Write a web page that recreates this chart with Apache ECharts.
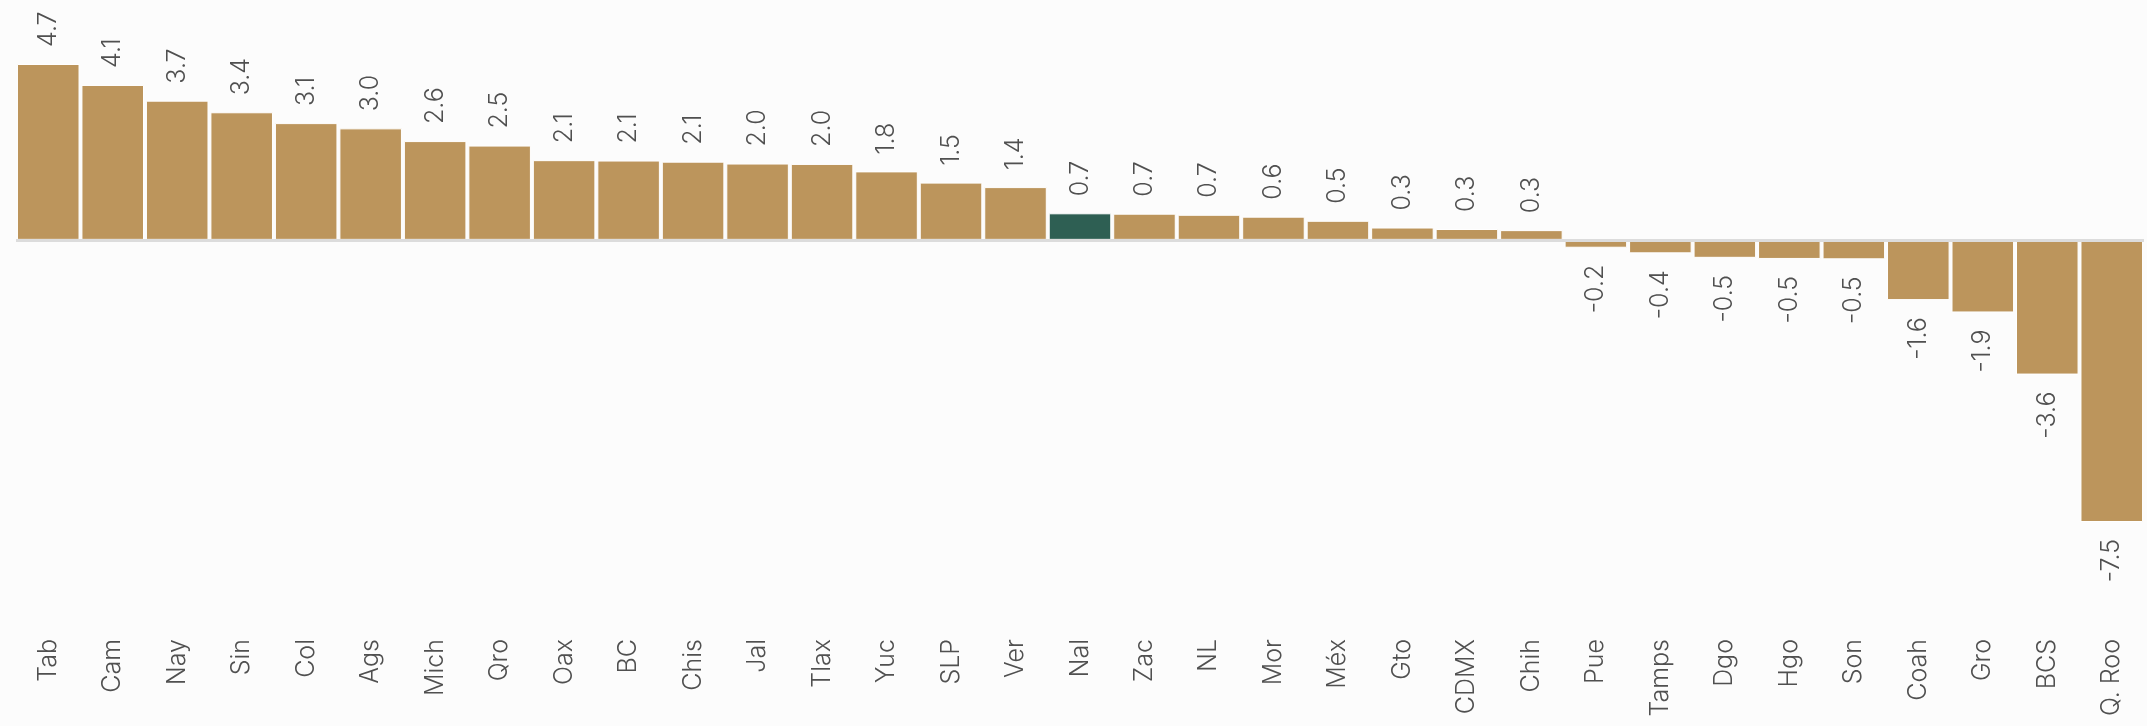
<!DOCTYPE html>
<html>
<head>
<meta charset="utf-8">
<script src="https://cdn.jsdelivr.net/npm/echarts@6/dist/echarts.min.js"></script>
<style>
  html, body { margin: 0; padding: 0; background: #fcfcfc; }
  #chart { width: 2147px; height: 726px; }
</style>
</head>
<body>
<div id="chart"></div>
<script>
// entidades, ordenadas de mayor a menor
const states = ['Tab', 'Cam', 'Nay', 'Sin', 'Col', 'Ags', 'Mich', 'Qro', 'Oax', 'BC', 'Chis',
  'Jal', 'Tlax', 'Yuc', 'SLP', 'Ver', 'Nal', 'Zac', 'NL', 'Mor', 'Méx', 'Gto', 'CDMX', 'Chih',
  'Pue', 'Tamps', 'Dgo', 'Hgo', 'Son', 'Coah', 'Gro', 'BCS', 'Q. Roo'];
const values = [4.70, 4.14, 3.72, 3.41, 3.12, 2.98, 2.64, 2.52, 2.13, 2.12, 2.09,
  2.04, 2.03, 1.83, 1.53, 1.41, 0.71, 0.70, 0.67, 0.62, 0.51, 0.33, 0.29, 0.26,
  -0.21, -0.36, -0.48, -0.51, -0.52, -1.61, -1.94, -3.60, -7.54];
const nationalName = 'Nal';

const gold = '#bc955c';
const green = '#2e5f53';
const textFont = 'Inter';

const chart = echarts.init(document.getElementById('chart'));

const barData = values.map(function (v, i) {
  const neg = v < 0;
  return {
    value: v,
    itemStyle: { color: states[i] === nationalName ? green : gold },
    label: {
      position: neg ? 'bottom' : 'top',
      align: neg ? 'right' : 'left'
    }
  };
});

const option = {
  backgroundColor: '#fcfcfc',
  animation: false,
  grid: { left: 16, right: 3, top: 64, bottom: 204 },
  xAxis: {
    type: 'category',
    data: states,
    axisLine: { show: false, onZero: false },
    axisTick: { show: false },
    axisLabel: {
      rotate: 90,
      margin: 117,
      interval: 0,
      color: '#505050',
      fontFamily: textFont,
      fontWeight: 300,
      fontSize: 25
    }
  },
  yAxis: {
    type: 'value',
    min: -7.54,
    max: 4.7,
    show: false,
    splitLine: { show: false }
  },
  series: [{
    type: 'bar',
    data: barData,
    barCategoryGap: '3%',
    itemStyle: { borderColor: '#ffffff', borderWidth: 1 },
    label: {
      show: true,
      rotate: 90,
      distance: 17,
      verticalAlign: 'middle',
      color: '#505050',
      fontFamily: textFont,
      fontWeight: 300,
      fontSize: 25,
      formatter: function (p) { return p.value.toFixed(1); }
    },
    markLine: {
      silent: true,
      symbol: ['none', 'none'],
      label: { show: false },
      lineStyle: { color: '#dcdcdc', width: 3, type: 'solid' },
      data: [{ yAxis: 0 }]
    }
  }]
};

chart.setOption(option);
</script>
</body>
</html>
